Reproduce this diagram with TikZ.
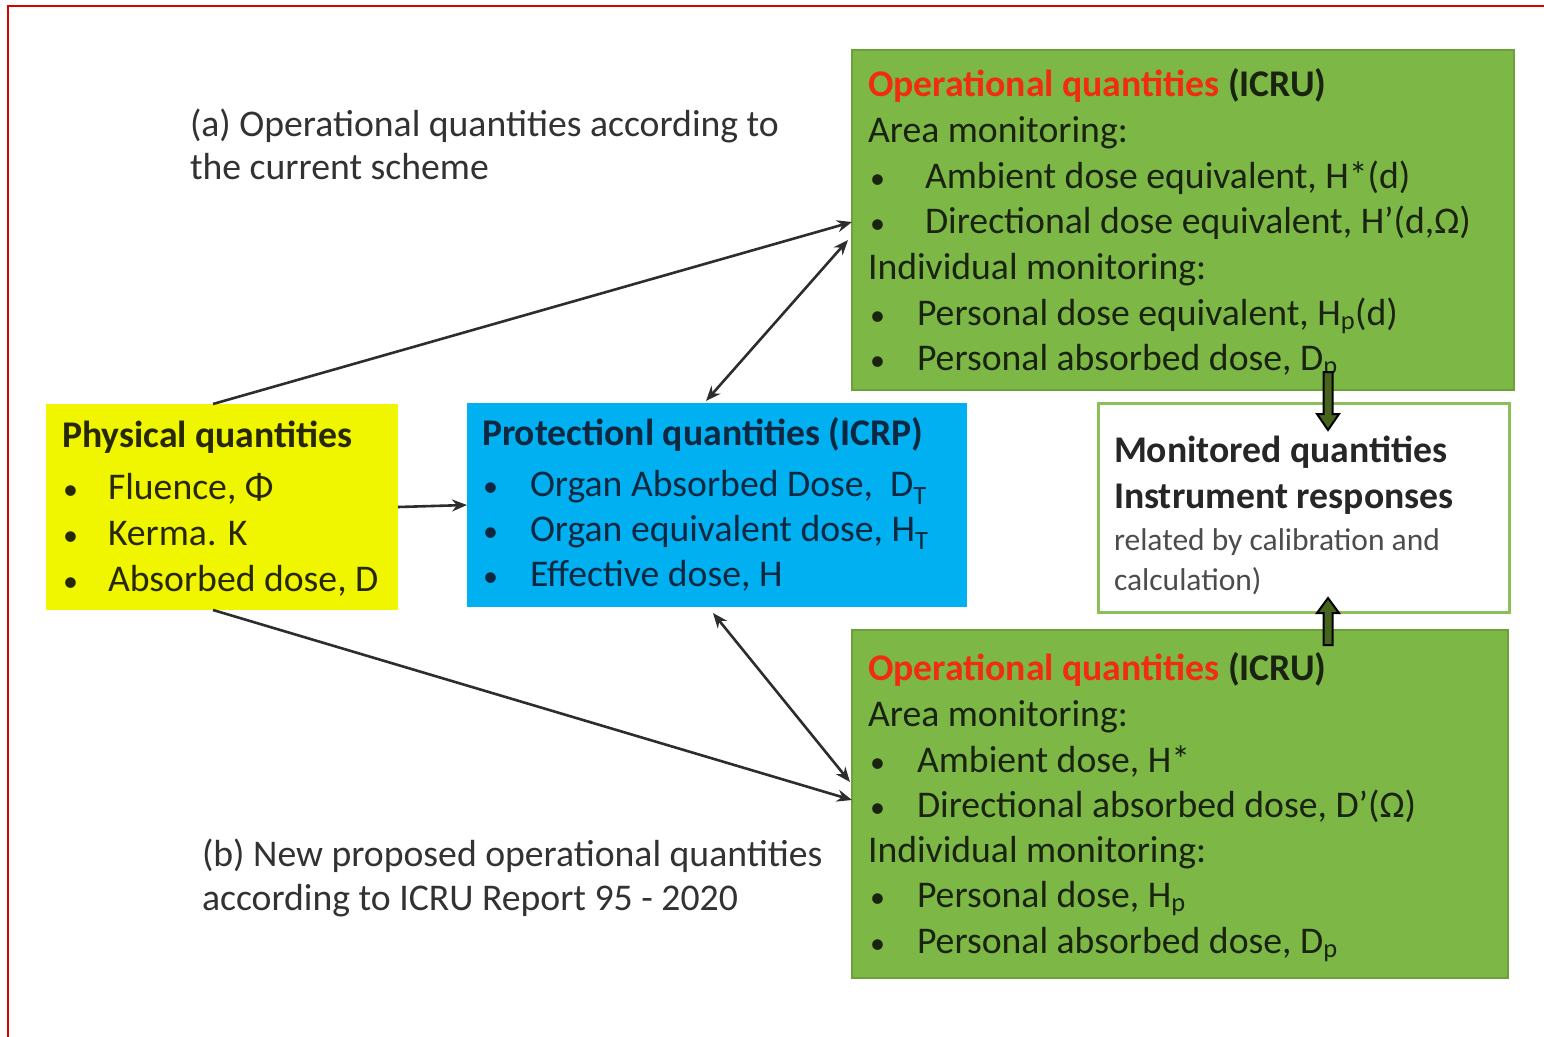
\documentclass[tikz,border=0pt]{standalone}
\usepackage{fontspec}
\setmainfont{Carlito}
\usetikzlibrary{arrows.meta,calc}
\definecolor{gbox}{RGB}{125,183,70}
\definecolor{gedge}{RGB}{108,160,58}
\definecolor{ybox}{RGB}{240,245,0}
\definecolor{bbox}{RGB}{0,176,240}
\definecolor{mborder}{RGB}{140,190,90}
\definecolor{redt}{RGB}{240,45,15}
\definecolor{gtext}{RGB}{25,35,15}
\definecolor{btext}{RGB}{15,40,65}
\definecolor{ytext}{RGB}{40,40,0}
\definecolor{atext}{RGB}{50,50,50}
\definecolor{arrowc}{RGB}{45,45,45}
\definecolor{blockfill}{RGB}{70,100,30}
\newcommand{\bul}{{\fontsize{30}{36}\selectfont •}}
\begin{document}
\begin{tikzpicture}[x=1pt,y=-1pt,
  box/.style={rectangle,inner sep=0pt,outer sep=0pt},
  txt/.style={anchor=base west,inner sep=0pt,outer sep=0pt,font=\fontsize{37.7}{44}\selectfont},
  smalltxt/.style={anchor=base west,inner sep=0pt,outer sep=0pt,font=\fontsize{31.5}{38}\selectfont},
  conn/.style={draw=arrowc,line width=2.6pt,-{Stealth[length=15pt,width=12pt]}},
  dconn/.style={draw=arrowc,line width=2.6pt,{Stealth[length=15pt,width=12pt]}-{Stealth[length=15pt,width=12pt]}},
  blockarrow/.style={draw=black,line width=2pt,fill=blockfill,line join=miter}
]
\useasboundingbox (0,0) rectangle (1544,1036);
\fill[white] (0,0) rectangle (1544,1036);
% red frame (left and top edges visible)
\draw[red!85!black,line width=2.6pt] (8,1040) -- (8,6) -- (1550,6);

% boxes
\node[box,fill=gbox,draw=gedge,line width=1.5pt,minimum width=662pt,minimum height=340pt] (optop) at (1183,220) {};
\node[box,fill=gbox,draw=gedge,line width=1.5pt,minimum width=656pt,minimum height=348pt] (opbot) at (1180,804) {};
\node[box,fill=white,draw=mborder,line width=3pt,minimum width=411pt,minimum height=209pt] (mon) at (1303.5,507.5) {};
\node[box,fill=bbox,minimum width=500pt,minimum height=204pt] (prot) at (717,505) {};
\node[box,fill=ybox,minimum width=352pt,minimum height=206pt] (phys) at (222,507) {};

% top operational text
\begin{scope}[text=gtext]
\node[txt] (t1) at (868,96) {\textbf{\textcolor{redt}{Operational quantities}} \textbf{(ICRU)}};
\node[txt] (t2) at (868,142) {Area monitoring:};
\node[txt] (t3b) at (870,188) {\bul};
\node[txt] (t3) at (925,188) {Ambient dose equivalent, H*(d)};
\node[txt] (t4b) at (870,233) {\bul};
\node[txt] (t4) at (925,233) {Directional dose equivalent, H’(d,Ω)};
\node[txt] (t5) at (868,279) {Individual monitoring:};
\node[txt] (t6b) at (870,325) {\bul};
\node[txt] (t6) at (917,325) {Personal dose equivalent, H\textsubscript{p}(d)};
\node[txt] (t7b) at (870,370) {\bul};
\node[txt] (t7) at (917,370) {Personal absorbed dose, D\textsubscript{p}};
% bottom operational text
\node[txt] (b1) at (868,680) {\textbf{\textcolor{redt}{Operational quantities}} \textbf{(ICRU)}};
\node[txt] (b2) at (868,726) {Area monitoring:};
\node[txt] (b3b) at (870,772) {\bul};
\node[txt] (b3) at (917,772) {Ambient dose, H*};
\node[txt] (b4b) at (870,817) {\bul};
\node[txt] (b4) at (917,817) {Directional absorbed dose, D’(Ω)};
\node[txt] (b5) at (868,862) {Individual monitoring:};
\node[txt] (b6b) at (870,907) {\bul};
\node[txt] (b6) at (917,907) {Personal dose, H\textsubscript{p}};
\node[txt] (b7b) at (870,953) {\bul};
\node[txt] (b7) at (917,953) {Personal absorbed dose, D\textsubscript{p}};
\end{scope}

% physical
\begin{scope}[text=ytext]
\node[txt] (p1) at (62,447) {\textbf{Physical quantities}};
\node[txt] (p2b) at (63,499) {\bul};
\node[txt] (p2) at (108,499) {Fluence, Φ};
\node[txt] (p3b) at (63,545) {\bul};
\node[txt] (p3) at (108,545) {Kerma. K};
\node[txt] (p4b) at (63,591) {\bul};
\node[txt] (p4) at (108,591) {Absorbed dose, D};
\end{scope}

% protection
\begin{scope}[text=btext]
\node[txt] (r1) at (482,445) {\textbf{Protectionl quantities (ICRP)}};
\node[txt] (r2b) at (483,496) {\bul};
\node[txt] (r2) at (530,496) {Organ Absorbed Dose,\ \ D\textsubscript{T}};
\node[txt] (r3b) at (483,541) {\bul};
\node[txt] (r3) at (530,541) {Organ equivalent dose, H\textsubscript{T}};
\node[txt] (r4b) at (483,586) {\bul};
\node[txt] (r4) at (530,586) {Effective dose, H};
\end{scope}

% monitored
\node[txt,text=black!85] (m1) at (1114,462) {\textbf{Monitored quantities}};
\node[txt,text=black!85] (m2) at (1114,508) {\textbf{Instrument responses}};
\node[smalltxt,text=black!70] (m3) at (1114,550) {related by calibration and};
\node[smalltxt,text=black!70] (m4) at (1114,590) {calculation)};

% annotations
\node[txt,text=atext] (a1) at (190,136) {(a) Operational quantities according to};
\node[txt,text=atext] (a2) at (190,179) {the current scheme};
\node[txt,text=atext] (c1) at (202,866) {(b) New proposed operational quantities};
\node[txt,text=atext] (c2) at (202,910) {according to ICRU Report 95 - 2020};

% connectors
\coordinate (physTop) at ($(phys.north west)+(167,0)$);
\coordinate (physBot) at ($(phys.south west)+(167,0)$);
\coordinate (optopIn) at ($(optop.north west)+(0,172)$);
\coordinate (optopIn2) at ($(optop.north west)+(-4,190)$);
\coordinate (protTop) at ($(prot.north west)+(239,-2)$);
\coordinate (protBot) at ($(prot.south west)+(246,6)$);
\coordinate (opbotIn) at ($(opbot.north west)+(0,170)$);
\coordinate (opbotIn2) at ($(opbot.north west)+(-2,152)$);
\draw[conn] (physTop) -- (optopIn);
\draw[dconn] (protTop) -- (optopIn2);
\draw[conn] (phys.east) -- (prot.west);
\draw[conn] (physBot) -- (opbotIn);
\draw[dconn] (protBot) -- (opbotIn2);

% block arrows
\coordinate (ta) at ($(optop.south west)+(476,-18)$);
\coordinate (ba) at ($(opbot.north west)+(476,15)$);
\draw[blockarrow,shift={(ta)}] (-4.5,0) -- (-4.5,42) -- (-11,42) -- (0,58) -- (11,42) -- (4.5,42) -- (4.5,0) -- cycle;
\draw[blockarrow,shift={(ba)}] (-4.5,0) -- (-4.5,-32) -- (-11,-32) -- (0,-47) -- (11,-32) -- (4.5,-32) -- (4.5,0) -- cycle;
\end{tikzpicture}
\end{document}
